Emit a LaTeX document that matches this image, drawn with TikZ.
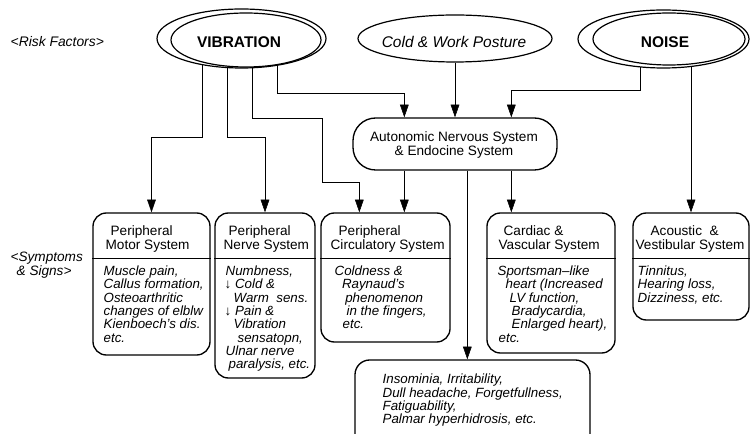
\documentclass[tikz,border=0pt]{standalone}
\usepackage{fontspec}
\setmainfont{Liberation Sans}
\usetikzlibrary{arrows.meta,fit,calc,shapes.geometric}
\pgfdeclarelayer{bg}
\pgfsetlayers{bg,main}
\newcommand\txtlines[1]{\vtop{\halign{##\hfil\cr#1\crcr}}}
\newcommand\ctrlines[1]{\vtop{\halign{\hfil##\hfil\cr#1\crcr}}}
\newcommand\dnarr{{\upshape ↓}}
\begin{document}
\begin{tikzpicture}[x=0.75pt,y=-0.75pt,line width=1pt,
  arr/.style={-{Triangle[length=9.5pt,width=6.5pt]}},
  ell/.style={draw,ellipse,inner sep=0,fill=white,line width=0.9pt},
  sbox/.style={draw,rounded corners=10pt,inner sep=0,fill=white},
  ttl/.style={anchor=base west,inner sep=0,font=\fontsize{10.2}{10}\selectfont},
  bdy/.style={anchor=base west,inner sep=0,font=\fontsize{10}{10}\selectfont\itshape},
  big/.style={anchor=base,inner sep=0,font=\fontsize{11.6}{12}\selectfont}]
\useasboundingbox (0,0) rectangle (750,434);
\clip (0,0) rectangle (750,434);

% ---- risk factor ellipses
\node[ell,minimum width=126.75pt,minimum height=44.25pt] (vibo) at (241.5,38.5) {};
\node[ell,minimum width=112.5pt,minimum height=40.5pt] (vibi) at (246,40) {};
\node[big,font=\fontsize{11.6}{12}\selectfont\bfseries] (vibt) at (239,48) {VIBRATION};

\node[ell,minimum width=145.5pt,minimum height=35.25pt] (cold) at (455,38.5) {};
\node[big,font=\fontsize{11.6}{12}\selectfont\itshape] (coldt) at (454,48) {Cold \& Work Posture};

\node[ell,minimum width=128.25pt,minimum height=43.5pt] (noiseo) at (663.5,39) {};
\node[ell,minimum width=114pt,minimum height=39pt] (noisei) at (669,39) {};
\node[big,font=\fontsize{11.6}{12}\selectfont\bfseries] (noiset) at (665,48) {NOISE};

% ---- row labels
\node[anchor=base west,inner sep=0,font=\fontsize{10.4}{10}\selectfont\itshape] (risk) at (10,46.5) {<Risk Factors>};
\node[anchor=base west,inner sep=0,font=\fontsize{10.2}{10}\selectfont\itshape] (sympt) at (10,261.7)
  {\txtlines{<Symptoms\cr\hspace*{4.5pt}\& Signs>}};

% ---- ANS box
\path (353,118) coordinate (ans1) (557,170) coordinate (ans2);
\node[draw,rounded corners=17pt,inner sep=0,fill=white,fit=(ans1)(ans2)] (ans) {};
\node[anchor=base,inner sep=0,font=\fontsize{10.2}{9.5}\selectfont] (anst) at (454,141.3)
  {\ctrlines{Autonomic Nervous System\cr\& Endocine System}};

% ---- symptom boxes
\path (93,213) coordinate (m1) (210,355) coordinate (m2);
\node[sbox,fit=(m1)(m2)] (motor) {};
\path (215,213) coordinate (p1) (315,378) coordinate (p2);
\node[sbox,fit=(p1)(p2)] (nerve) {};
\path (321,213) coordinate (c1) (450,342) coordinate (c2);
\node[sbox,fit=(c1)(c2)] (circ) {};
\path (487,213) coordinate (k1) (615,353) coordinate (k2);
\node[sbox,fit=(k1)(k2)] (card) {};
\path (633,213) coordinate (a1) (749,320) coordinate (a2);
\node[sbox,fit=(a1)(a2)] (acou) {};
\path (355,360) coordinate (b1) (590,470) coordinate (b2);
\node[draw,rounded corners=11pt,inner sep=0,fill=white,fit=(b1)(b2)] (bottom) {};

\coordinate (dv) at (0,258.5);
\foreach \b in {motor,nerve,circ,card,acou}
  \draw (\b.west |- dv) -- (\b.east |- dv);

% ---- box texts
\node[ttl] (motorT) at (105,236) {\txtlines{\hspace*{3.75pt}Peripheral\cr Motor System}};
\node[bdy] (motorB) at (103,275.5) {\txtlines{Muscle pain,\cr Callus formation,\cr Osteoarthritic\cr changes of elblw\cr Kienboech's dis.\cr etc.}};

\node[ttl] (nerveT) at (223,236) {\txtlines{\hspace*{3.75pt}Peripheral\cr Nerve System}};
\node[bdy] (nerveB) at (224,275.5) {\txtlines{\hspace*{0.75pt}Numbness,\cr \dnarr\ Cold \&\cr \hspace*{6.75pt}Warm\ \ sens.\cr \dnarr\ Pain \&\cr \hspace*{6.75pt}Vibration\cr \hspace*{9.75pt}sensatopn,\cr \hspace*{0.75pt}Ulnar nerve\cr \hspace*{3pt}paralysis, etc.}};

\node[ttl] (circT) at (330,236) {\txtlines{\hspace*{6pt}Peripheral\cr Circulatory System}};
\node[bdy] (circB) at (334,275.5) {\txtlines{Coldness \&\cr \hspace*{5.5pt}Raynaud's\cr \hspace*{8pt}phenomenon\cr \hspace*{9pt}in the fingers,\cr \hspace*{6pt}etc.}};

\node[ttl] (cardT) at (498,236) {\txtlines{\hspace*{3.75pt}Cardiac \&\cr Vascular System}};
\node[bdy] (cardB) at (497,275.5) {\txtlines{Sportsman–like\cr \hspace*{6pt}heart (Increased\cr \hspace*{9pt}LV function,\cr \hspace*{10.5pt}Bradycardia,\cr \hspace*{10.5pt}Enlarged heart),\cr \hspace*{0.75pt}etc.}};

\node[ttl] (acouT) at (635,236) {\txtlines{\hspace*{11.25pt}Acoustic\ \ \&\cr Vestibular System}};
\node[bdy] (acouB) at (637,275.5) {\txtlines{Tinnitus,\cr Hearing loss,\cr Dizziness, etc.}};

\node[bdy] (bottomB) at (382,384) {\txtlines{Insominia, Irritability,\cr Dull headache, Forgetfullness,\cr Fatiguability,\cr Palmar hyperhidrosis, etc.}};

% ---- connectors
\coordinate (v1) at (202,50);
\coordinate (v2) at (227,50);
\coordinate (v3) at (252,50);
\coordinate (v4) at (277,50);
\coordinate (n1) at (640,50);
\coordinate (n2) at (691,50);
\coordinate (s1) at ($(ans.south west)+(52,0)$);
\coordinate (s2) at ($(ans.south west)+(115,0)$);
\coordinate (s3) at ($(ans.south west)+(159,0)$);
\begin{pgfonlayer}{bg}
\draw[arr] (v1) -- ++(0,87) -| (motor.north);
\draw[arr] (v2) -- ++(0,87) -| (nerve.north);
\draw[arr] (v3) -- ++(0,68) -- ++(70,0) -- ++(0,64) -| ($(circ.north west)+(39,0)$);
\draw[arr] (v4) -- ++(0,43) -| ($(ans.north west)+(52,0)$);
\draw[arr] (cold.south) -- (cold.south |- ans.north);
\draw[arr] (n1) -- ++(0,40) -| ($(ans.north west)+(159,0)$);
\draw[arr] (n2) -- (n2 |- acou.north);
\draw[arr] (s1) -- (s1 |- circ.north);
\draw[arr] (s2) -- (s2 |- bottom.north);
\draw[arr] (s3) -- (s3 |- card.north);
\end{pgfonlayer}
\end{tikzpicture}
\end{document}
